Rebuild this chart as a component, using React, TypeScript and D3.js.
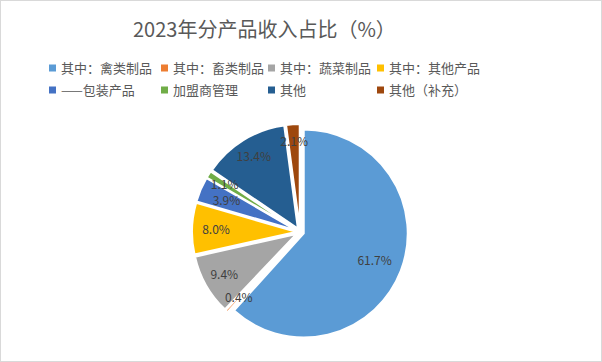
import React from "react";
import * as d3 from "d3";

const categories = [
  "其中：禽类制品",
  "其中：畜类制品",
  "其中：蔬菜制品",
  "其中：其他产品",
  "——包装产品",
  "加盟商管理",
  "其他",
  "其他（补充）",
];
const shares = [61.7, 0.4, 9.4, 8.0, 3.9, 1.1, 13.4, 2.1];
const colors = ["#5B9BD5", "#ED7D31", "#A5A5A5", "#FFC000", "#4472C4", "#70AD47", "#255E91", "#9E480E"];

const W = 602;
const H = 362;

const App = () => {
  const cx = 300;
  const cy = 232;
  const r = 104;
  const explode = 4;

  const pie = d3.pie<number>().sort(null).value((d) => d);
  const arcs = pie(shares);
  const arc = d3.arc<d3.PieArcDatum<number>>().innerRadius(0).outerRadius(r);
  // label distance from centre, a bit uneven like excel's best fit
  const labelR = [80, 90, 87, 84, 80, 89, 88, 90];

  // legend layout: 4 columns, 2 rows
  const legendX = [52, 164, 271, 380];
  const legendY = [68, 90];

  return (
    <svg
      width={W}
      height={H}
      style={{ position: "absolute", left: 0, top: 0, background: "#fff" }}
      fontFamily="'Noto Sans CJK SC', 'Microsoft YaHei', sans-serif"
    >
      <rect x={0.5} y={0.5} width={W - 1} height={H - 1} fill="#fff" stroke="#d9d9d9" />
      <text x={133} y={37} fontSize={20} fill="#595959">
        2023年分产品收入占比（%）
      </text>

      {categories.map((c, i) => (
        <g key={c} transform={`translate(${legendX[i % 4]},${legendY[Math.floor(i / 4)]})`}>
          <rect x={-3} y={-3.5} width={7} height={7} fill={colors[i]} />
          <text x={9} y={0} dy="0.35em" fontSize={13} fill="#595959">
            {c}
          </text>
        </g>
      ))}

      <g transform={`translate(${cx},${cy})`}>
        {arcs.map((a, i) => {
          const mid = (a.startAngle + a.endAngle) / 2;
          const dx = Math.sin(mid) * explode;
          const dy = -Math.cos(mid) * explode;
          return (
            <path
              key={i}
              d={arc(a) || ""}
              transform={`translate(${dx},${dy})`}
              fill={colors[i]}
              stroke="#fff"
              strokeWidth={2}
            />
          );
        })}
        {arcs.map((a, i) => {
          const mid = (a.startAngle + a.endAngle) / 2;
          const lx = Math.sin(mid) * labelR[i];
          const ly = -Math.cos(mid) * labelR[i];
          return (
            <text
              key={"l" + i}
              x={lx}
              y={ly}
              dy="0.35em"
              textAnchor="middle"
              fontSize={12}
              fill="#404040"
            >
              {shares[i].toFixed(1)}%
            </text>
          );
        })}
      </g>
    </svg>
  );
};

export default App;
